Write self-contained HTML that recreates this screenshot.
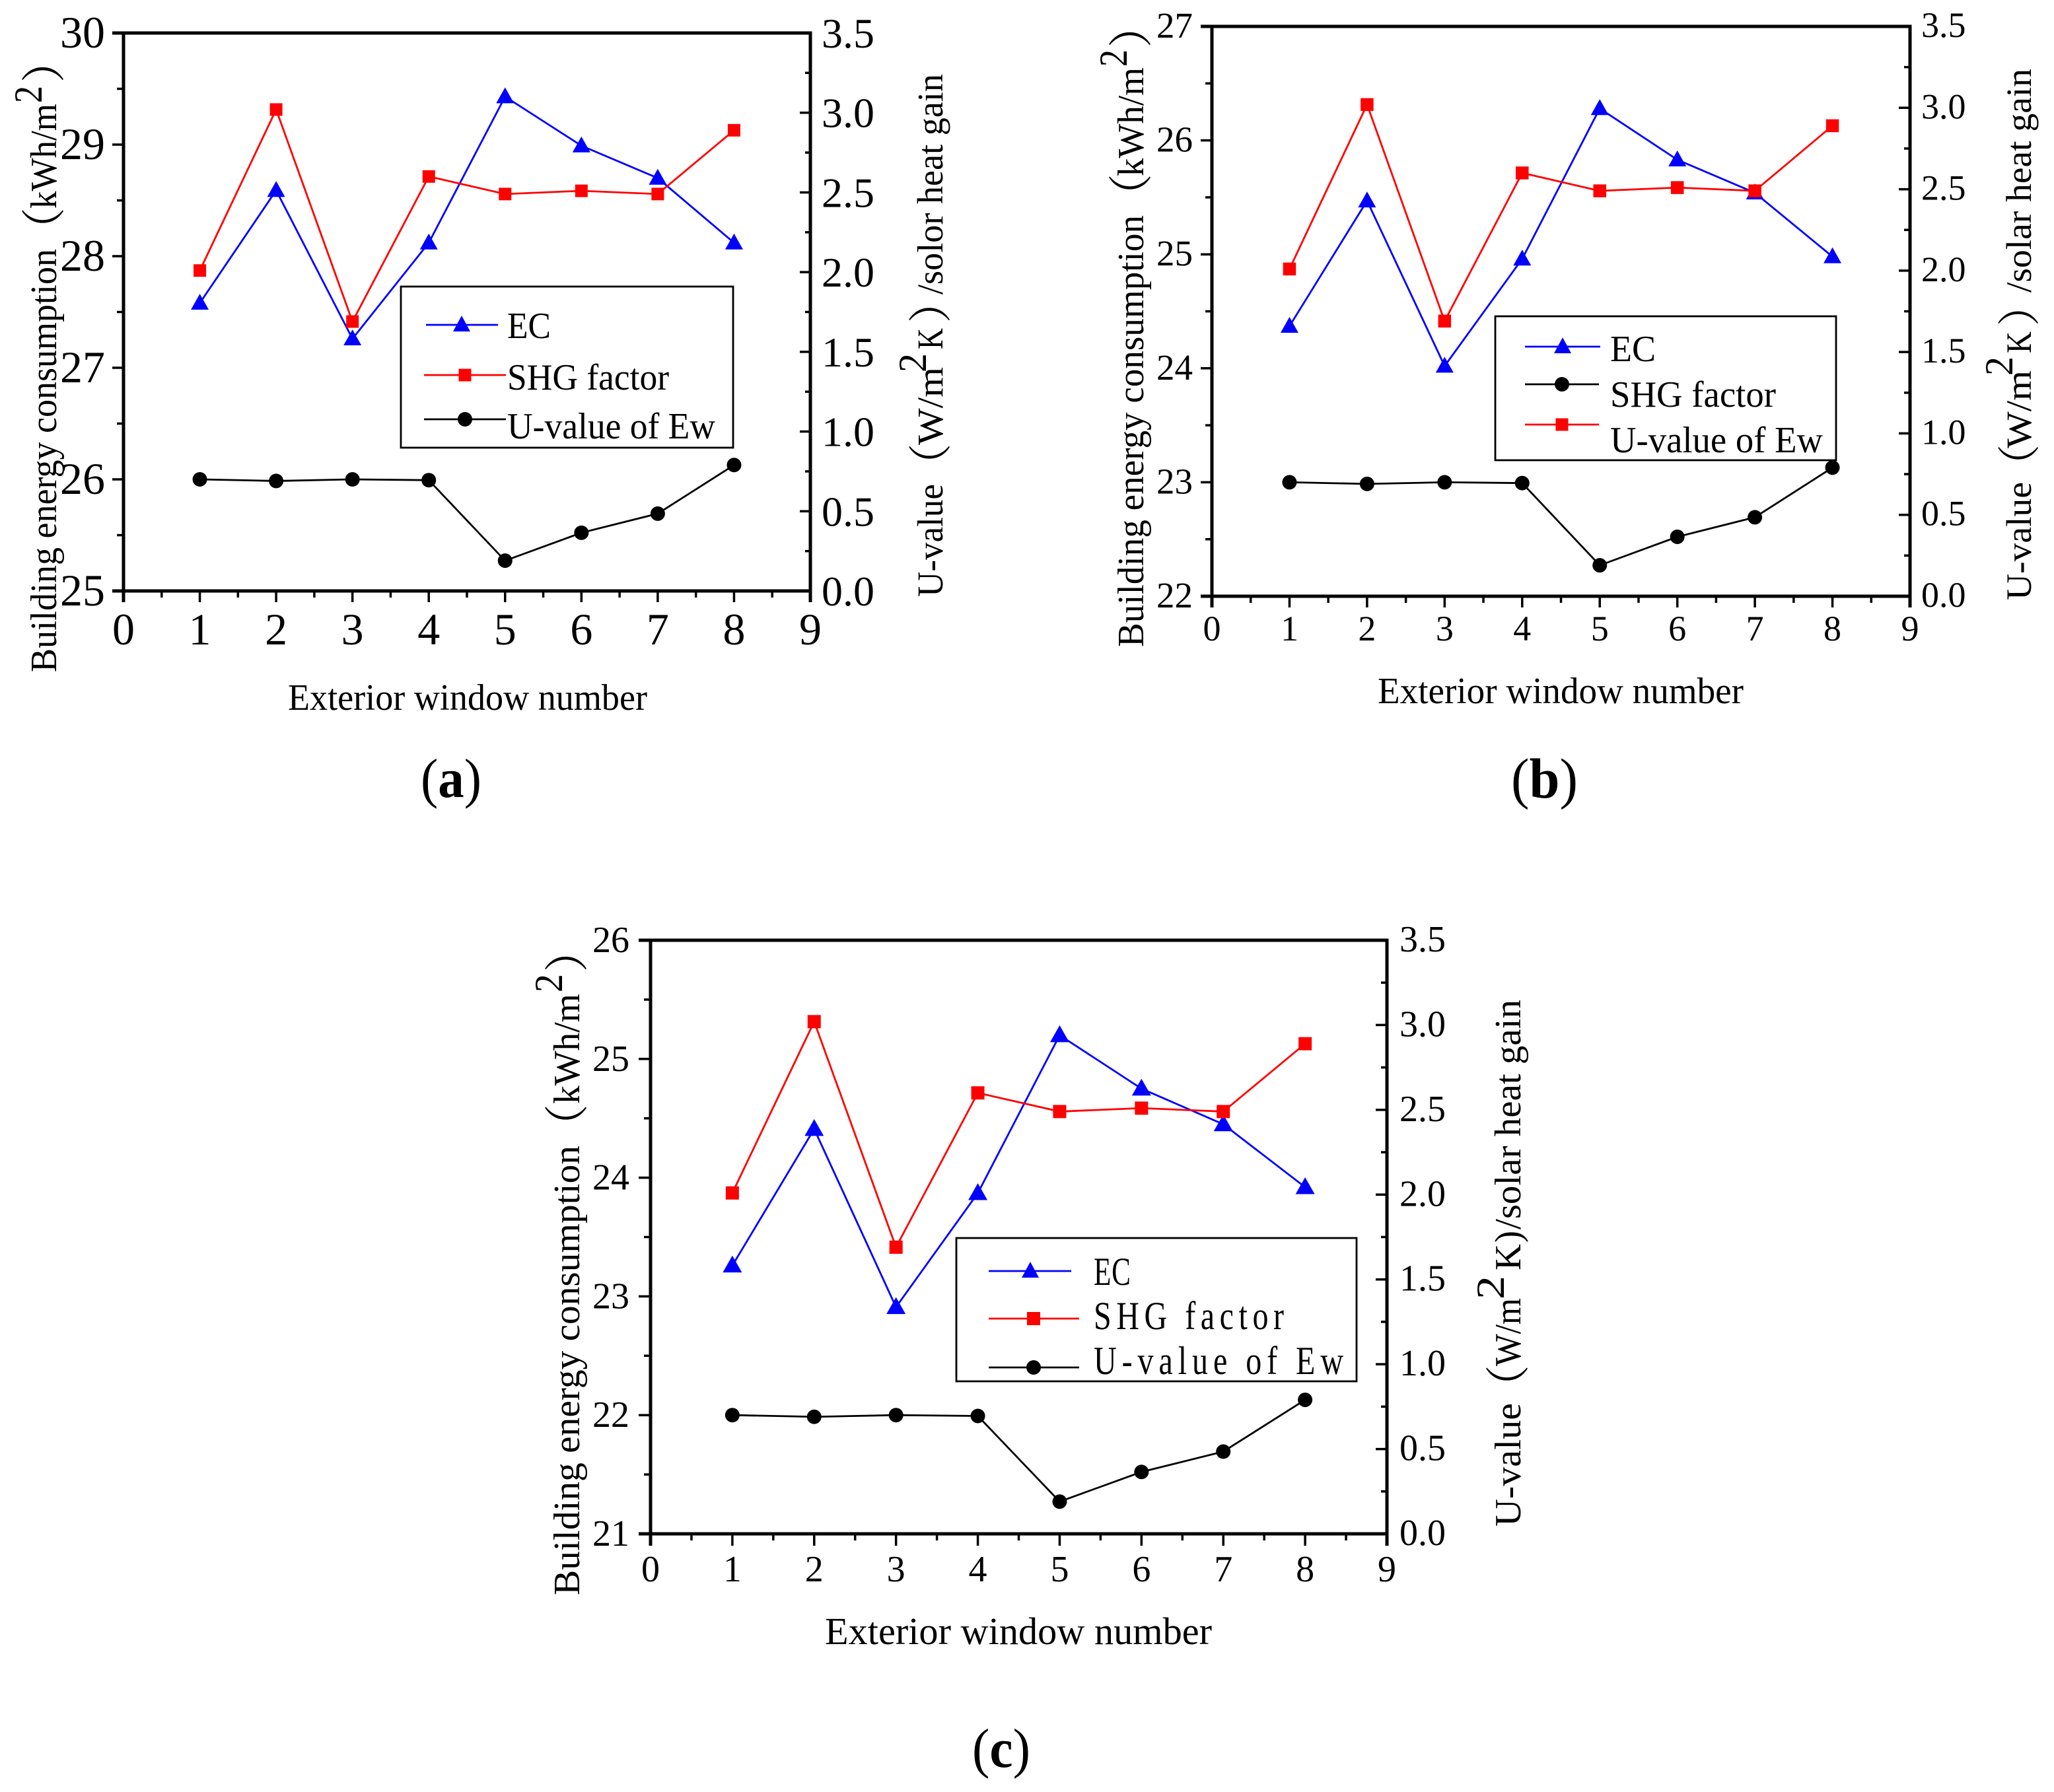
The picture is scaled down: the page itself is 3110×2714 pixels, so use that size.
<!DOCTYPE html>
<html lang="en">
<head>
<meta charset="utf-8">
<title>Building energy consumption by exterior window number</title>
<style>
html,body{margin:0;padding:0;background:#fff;}
#figure{display:block;width:3110px;height:2714px;background:#fff;}
text{font-family:"Liberation Serif","Noto Serif CJK SC",serif;fill:#000;}
</style>
</head>
<body>
<svg id="figure" xmlns="http://www.w3.org/2000/svg" width="3110" height="2714" viewBox="0 0 3110 2714"></svg>
<script>
/* ---- chart data ---- */
const windowNumbers = [1, 2, 3, 4, 5, 6, 7, 8];
const xTickLabels = ['0', '1', '2', '3', '4', '5', '6', '7', '8', '9'];
const rightTickLabels = ['0.0', '0.5', '1.0', '1.5', '2.0', '2.5', '3.0', '3.5'];
const leftTickLabelsA = ['25', '26', '27', '28', '29', '30'];
const leftTickLabelsB = ['22', '23', '24', '25', '26', '27'];
const leftTickLabelsC = ['21', '22', '23', '24', '25', '26'];
const ecValuesA = [27.58, 28.59, 27.26, 28.12, 29.43, 28.99, 28.70, 28.12];
const shgValuesA = [2.01, 3.02, 1.69, 2.60, 2.49, 2.51, 2.49, 2.89];
const uValuesA = [0.70, 0.69, 0.70, 0.695, 0.19, 0.365, 0.485, 0.79];
const ecValuesB = [24.37, 25.47, 24.02, 24.96, 26.28, 25.83, 25.54, 24.98];
const shgValuesB = [2.01, 3.02, 1.69, 2.60, 2.49, 2.51, 2.49, 2.89];
const uValuesB = [0.70, 0.69, 0.70, 0.695, 0.19, 0.365, 0.485, 0.79];
const ecValuesC = [23.26, 24.41, 22.91, 23.87, 25.20, 24.75, 24.45, 23.92];
const shgValuesC = [2.01, 3.02, 1.69, 2.60, 2.49, 2.51, 2.49, 2.89];
const uValuesC = [0.70, 0.69, 0.70, 0.695, 0.19, 0.365, 0.485, 0.79];

/* ---- layout ---- */
const NS = 'http://www.w3.org/2000/svg';
const figure = document.getElementById('figure');

const panels = [
  {
    id: 'a', left: 187, right: 1227, top: 50, bottom: 895,
    leftTicks: leftTickLabelsA, ec: ecValuesA, shg: shgValuesA, u: uValuesA,
    major: 17, minor: 10, rMajor: 16, rMinor: 8, axisW: 5, lineW: 2.8,
    tri: 13.5, triUp: 14, triDown: 10, sq: 19, r: 11,
    leftFont: 68, leftX: 159, leftDy: 22,
    rightFont: 64, rightX: 1244, rightDy: 22,
    xFont: 68, xBase: 976,
    xTitle: {t: 'Exterior window number', x0: 436, x1: 980, y: 1075, size: 56},
    tag: {x0: 637, x1: 729, y: 1207, size: 84, letter: 'a'},
    leftTitle: {size: 56, base: 85, segs: [
      {t: 'Building energy consumption', from: 1018, to: 377},
      {open: 341},
      {t: 'kWh/m', from: 316, to: 157},
      {t: '2', from: 156, to: 130, base: 63, size: 60},
      {close: 120}
    ]},
    rightTitle: {size: 55, base: 1427, segs: [
      {t: 'U-value', from: 904, to: 733},
      {open: 698},
      {t: 'W/m', from: 674, to: 556},
      {t: '2', from: 564, to: 535, base: 1402, size: 60},
      {t: 'K', from: 529, to: 497},
      {close: 484},
      {t: '/solor heat gain', from: 446, to: 112}
    ]},
    legend: {x0: 607, x1: 1110, y0: 434, y1: 678, size: 56, textX: 768, tri: 13, triUp: 14, triDown: 10, sq: 19, r: 11,
      entries: [
        {label: 'EC', kind: 'ec', lx0: 645, lx1: 754, ly: 492, mx: 699, base: 512, w: 66},
        {label: 'SHG factor', kind: 'shg', lx0: 642, lx1: 766, ly: 568, mx: 704, base: 590, w: 245},
        {label: 'U-value of Ew', kind: 'u', lx0: 642, lx1: 766, ly: 635, mx: 704, base: 664, w: 315}
      ]}
  },
  {
    id: 'b', left: 1835, right: 2892, top: 40, bottom: 903,
    leftTicks: leftTickLabelsB, ec: ecValuesB, shg: shgValuesB, u: uValuesB,
    major: 17, minor: 10, rMajor: 17, rMinor: 9, axisW: 5, lineW: 2.8,
    tri: 13.5, triUp: 14, triDown: 10, sq: 19.5, r: 11,
    leftFont: 55, leftX: 1806, leftDy: 17,
    rightFont: 54, rightX: 2909, rightDy: 16,
    xFont: 54, xBase: 970,
    xTitle: {t: 'Exterior window number', x0: 2086, x1: 2640, y: 1065, size: 56},
    tag: {x0: 2288, x1: 2389, y: 1208, size: 86, letter: 'b'},
    leftTitle: {size: 56, base: 1731, segs: [
      {t: 'Building energy consumption', from: 980, to: 326},
      {open: 290},
      {t: 'kWh/m', from: 267, to: 102},
      {t: '2', from: 101, to: 75, base: 1706, size: 60},
      {close: 67}
    ]},
    rightTitle: {size: 54, base: 3075, segs: [
      {t: 'U-value', from: 909, to: 730},
      {open: 699},
      {t: 'W/m', from: 679, to: 561},
      {t: '2', from: 569, to: 540, base: 3047, size: 60},
      {t: 'K', from: 535, to: 502},
      {close: 489},
      {t: '/solar heat gain', from: 443, to: 104}
    ]},
    legend: {x0: 2264, x1: 2780, y0: 479, y1: 697, size: 56, textX: 2438, tri: 13, triUp: 14, triDown: 10, sq: 19, r: 11,
      entries: [
        {label: 'EC', kind: 'ec', lx0: 2309, lx1: 2423, ly: 525, mx: 2366, base: 547, w: 69},
        {label: 'SHG factor', kind: 'u', lx0: 2309, lx1: 2421, ly: 582, mx: 2365, base: 616, w: 251},
        {label: 'U-value of Ew', kind: 'shg', lx0: 2309, lx1: 2421, ly: 643, mx: 2365, base: 685, w: 322}
      ]}
  },
  {
    id: 'c', left: 985, right: 2100, top: 1424, bottom: 2323,
    leftTicks: leftTickLabelsC, ec: ecValuesC, shg: shgValuesC, u: uValuesC,
    major: 18, minor: 10, rMajor: 17, rMinor: 9, axisW: 5, lineW: 2.8,
    tri: 14.5, triUp: 15, triDown: 10.5, sq: 20, r: 11,
    leftFont: 56, leftX: 953, leftDy: 18,
    rightFont: 56, rightX: 2119, rightDy: 17,
    xFont: 56, xBase: 2395,
    xTitle: {t: 'Exterior window number', x0: 1249, x1: 1835, y: 2490, size: 58},
    tag: {x0: 1472, x1: 1560, y: 2676, size: 84, letter: 'c'},
    leftTitle: {size: 56, base: 877, segs: [
      {t: 'Building energy consumption', from: 2416, to: 1735},
      {open: 1699},
      {t: 'kWh/m', from: 1672, to: 1505},
      {t: '2', from: 1503, to: 1475, base: 851, size: 60},
      {close: 1467}
    ]},
    rightTitle: {size: 56, base: 2302, segs: [
      {t: 'U-value', from: 2312, to: 2125},
      {open: 2094},
      {t: 'W/m', from: 2069, to: 1966},
      {t: '2', from: 1968, to: 1932, base: 2277, size: 60},
      {t: 'K', from: 1924, to: 1884},
      {t: ')', from: 1882, to: 1864},
      {t: '/solar heat gain', from: 1862, to: 1514}
    ]},
    legend: {x0: 1448, x1: 2054, y0: 1875, y1: 2092, size: 60, textX: 1656, tri: 13, triUp: 14, triDown: 10, sq: 20, r: 11,
      entries: [
        {label: 'EC', kind: 'ec', lx0: 1497, lx1: 1622, ly: 1925, mx: 1560, base: 1946, w: 56, sx: 0.72},
        {label: 'SHG factor', kind: 'shg', lx0: 1497, lx1: 1634, ly: 1997, mx: 1565, base: 2013, w: 288, sx: 0.8},
        {label: 'U-value of Ew', kind: 'u', lx0: 1497, lx1: 1634, ly: 2071, mx: 1565, base: 2081, w: 378, sx: 0.8}
      ]}
  }
];

const seriesColors = {ec: '#0000ff', shg: '#ff0000', u: '#000000'};

/* ---- axis functions ---- */
function xPos(p, v) { return p.left + (v / 9) * (p.right - p.left); }
function yLeftPos(p, v) {
  const lo = Number(p.leftTicks[0]);
  const hi = Number(p.leftTicks[p.leftTicks.length - 1]);
  return p.bottom - ((v - lo) / (hi - lo)) * (p.bottom - p.top);
}
function yRightPos(p, v) { return p.bottom - (v / 3.5) * (p.bottom - p.top); }

/* ---- drawing helpers ---- */
function makeGroup(parent, name) {
  const el = document.createElementNS(NS, 'g');
  
  
  parent.appendChild(el);
  return el;
}
function line(parent, x1, y1, x2, y2, color, width, name, cap) {
  const el = document.createElementNS(NS, 'line');
  el.setAttribute('x1', x1);
  el.setAttribute('y1', y1);
  el.setAttribute('x2', x2);
  el.setAttribute('y2', y2);
  el.setAttribute('stroke', color);
  el.setAttribute('stroke-width', width);
  el.setAttribute('stroke-linecap', cap || 'butt');
  
  
  parent.appendChild(el);
  return el;
}
function label(parent, str, x, y, size, anchor, name) {
  const el = document.createElementNS(NS, 'text');
  el.setAttribute('x', x);
  el.setAttribute('y', y);
  el.setAttribute('font-size', size);
  el.setAttribute('text-anchor', anchor);
  
  
  el.textContent = str;
  parent.appendChild(el);
  return el;
}
function fitted(el, len, mode) {
  el.setAttribute('textLength', len);
  el.setAttribute('lengthAdjust', mode || 'spacingAndGlyphs');
}
function marker(parent, kind, cx, cy, m, name) {
  let el;
  if (kind === 'ec') {
    el = document.createElementNS(NS, 'polygon');
    el.setAttribute('points', (cx - m.tri) + ',' + (cy + m.triDown) + ' ' + (cx + m.tri) + ',' + (cy + m.triDown) + ' ' + cx + ',' + (cy - m.triUp));
    el.setAttribute('fill', seriesColors.ec);
  } else if (kind === 'shg') {
    el = document.createElementNS(NS, 'rect');
    el.setAttribute('x', cx - m.sq / 2);
    el.setAttribute('y', cy - m.sq / 2);
    el.setAttribute('width', m.sq);
    el.setAttribute('height', m.sq);
    el.setAttribute('fill', seriesColors.shg);
  } else {
    el = document.createElementNS(NS, 'circle');
    el.setAttribute('cx', cx);
    el.setAttribute('cy', cy);
    el.setAttribute('r', m.r);
    el.setAttribute('fill', seriesColors.u);
  }
  
  
  parent.appendChild(el);
}
function verticalText(parent, str, baseX, from, to, size, name, mode) {
  const el = document.createElementNS(NS, 'text');
  el.setAttribute('transform', 'translate(' + baseX + ' ' + from + ') rotate(-90)');
  el.setAttribute('font-size', size);
  
  
  el.textContent = str;
  if (to !== null) { fitted(el, from - to, mode); }
  parent.appendChild(el);
}
function drawTitle(parent, title, name) {
  const g = makeGroup(parent, name);
  const ps = title.size * 1.2;
  title.segs.forEach(function (s) {
    if (s.open !== undefined) {
      verticalText(g, '\uFF08', title.base + 5, s.open + 0.6 * ps, null, ps, 'open-parenthesis');
    } else if (s.close !== undefined) {
      verticalText(g, '\uFF09', title.base + 5, s.close + 0.08 * ps, null, ps, 'close-parenthesis');
    } else {
      const n = s.base !== undefined ? 'superscript-two' : 'title-text';
      verticalText(g, s.t, s.base !== undefined ? s.base : title.base, s.from, s.to, s.size || title.size, n);
    }
  });
}

/* ---- one panel ---- */
function drawPanel(p) {
  const g = makeGroup(figure, 'panel-' + p.id);
  const axes = makeGroup(g, 'axes');
  const k = '#000';

  /* frame */
  line(axes, p.left, p.top, p.left, p.bottom + p.major, k, p.axisW, 'left-axis');
  line(axes, p.right, p.top, p.right, p.bottom + p.major, k, p.axisW, 'right-axis');
  line(axes, p.left - p.major, p.top, p.right + p.axisW / 2, p.top, k, p.axisW, 'top-axis');
  line(axes, p.left - p.major, p.bottom, p.right, p.bottom, k, p.axisW, 'bottom-axis');

  /* x ticks */
  xTickLabels.forEach(function (t, i) {
    const v = Number(t);
    const x = xPos(p, v);
    line(axes, x, p.bottom, x, p.bottom + p.major, k, 3.5, 'x-tick');
    if (i < xTickLabels.length - 1) {
      const xm = xPos(p, v + 0.5);
      line(axes, xm, p.bottom, xm, p.bottom + p.minor, k, 3.5, 'x-minor-tick');
    }
    label(axes, t, x, p.xBase, p.xFont, 'middle', 'x-tick-label');
  });

  /* left y ticks */
  p.leftTicks.forEach(function (t, i) {
    const v = Number(t);
    const y = yLeftPos(p, v);
    line(axes, p.left - p.major, y, p.left, y, k, 3.5, 'left-y-tick');
    if (i < p.leftTicks.length - 1) {
      const ym = yLeftPos(p, v + 0.5);
      line(axes, p.left - p.minor, ym, p.left, ym, k, 3.5, 'left-y-minor-tick');
    }
    label(axes, t, p.leftX, y + p.leftDy, p.leftFont, 'end', 'left-y-tick-label');
  });

  /* right y ticks (point inward) */
  rightTickLabels.forEach(function (t, i) {
    const v = Number(t);
    const y = yRightPos(p, v);
    line(axes, p.right - p.rMajor, y, p.right, y, k, 3.5, 'right-y-tick');
    if (i < rightTickLabels.length - 1) {
      const ym = yRightPos(p, v + 0.25);
      line(axes, p.right - p.rMinor, ym, p.right, ym, k, 3.5, 'right-y-minor-tick');
    }
    label(axes, t, p.rightX, y + p.rightDy, p.rightFont, 'start', 'right-y-tick-label');
  });

  /* titles */
  drawTitle(g, p.leftTitle, 'left-y-axis-title');
  drawTitle(g, p.rightTitle, 'right-y-axis-title');
  const xt = label(g, p.xTitle.t, p.xTitle.x0, p.xTitle.y, p.xTitle.size, 'start', 'x-axis-title');
  fitted(xt, p.xTitle.x1 - p.xTitle.x0);

  /* series */
  const defs = [
    {kind: 'ec', values: p.ec, y: yLeftPos, name: 'ec'},
    {kind: 'shg', values: p.shg, y: yRightPos, name: 'shg-factor'},
    {kind: 'u', values: p.u, y: yRightPos, name: 'u-value'}
  ];
  defs.forEach(function (d) {
    const sg = makeGroup(g, 'series-' + d.name);
    const pts = windowNumbers.map(function (n, i) {
      return xPos(p, n) + ',' + d.y(p, d.values[i]);
    });
    const pl = document.createElementNS(NS, 'polyline');
    pl.setAttribute('points', pts.join(' '));
    pl.setAttribute('fill', 'none');
    pl.setAttribute('stroke', seriesColors[d.kind]);
    pl.setAttribute('stroke-width', p.lineW);
    
    
    sg.appendChild(pl);
    windowNumbers.forEach(function (n, i) {
      marker(sg, d.kind, xPos(p, n), d.y(p, d.values[i]), p, d.name + '-point-' + n);
    });
  });

  /* legend */
  const lg = makeGroup(g, 'legend');
  const L = p.legend;
  const box = document.createElementNS(NS, 'rect');
  box.setAttribute('x', L.x0);
  box.setAttribute('y', L.y0);
  box.setAttribute('width', L.x1 - L.x0);
  box.setAttribute('height', L.y1 - L.y0);
  box.setAttribute('fill', 'none');
  box.setAttribute('stroke', '#000');
  box.setAttribute('stroke-width', 2.8);
  
  
  lg.appendChild(box);
  L.entries.forEach(function (e) {
    const eg = makeGroup(lg, 'legend-entry');
    line(eg, e.lx0, e.ly, e.lx1, e.ly, seriesColors[e.kind], 2.8, 'legend-line');
    marker(eg, e.kind, e.mx, e.ly, L, 'legend-marker');
    if (e.sx) {
      /* narrow, widely tracked lettering used by the legend of panel c */
      const tx = label(eg, e.label, 0, 0, L.size, 'start', 'legend-label');
      tx.setAttribute('transform', 'translate(' + L.textX + ' ' + e.base + ') scale(' + e.sx + ' 1)');
      fitted(tx, e.w / e.sx, 'spacing');
    } else {
      const tx = label(eg, e.label, L.textX, e.base, L.size, 'start', 'legend-label');
      fitted(tx, e.w);
    }
  });

  /* panel tag */
  const tag = label(g, '', p.tag.x0, p.tag.y, p.tag.size, 'start', 'panel-label');
  tag.textContent = '(';
  const bold = document.createElementNS(NS, 'tspan');
  bold.setAttribute('font-weight', 'bold');
  bold.textContent = p.tag.letter;
  tag.appendChild(bold);
  tag.appendChild(document.createTextNode(')'));
  fitted(tag, p.tag.x1 - p.tag.x0);
}

panels.forEach(drawPanel);
</script>
</body>
</html>
